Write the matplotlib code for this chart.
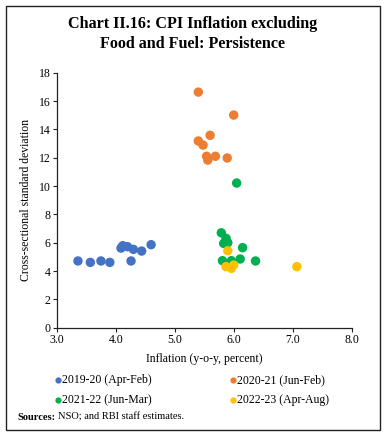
import matplotlib
matplotlib.use("Agg")
import matplotlib.pyplot as plt
from matplotlib.patches import Rectangle
from matplotlib.lines import Line2D

# data
fy20_x = [3.36, 3.57, 3.75, 3.90, 4.26, 4.09, 4.12, 4.20, 4.30, 4.44, 4.60]
fy20_y = [4.71, 4.61, 4.71, 4.61, 4.71, 5.62, 5.79, 5.72, 5.53, 5.41, 5.86]

fy21_x = [5.40, 6.00, 5.60, 5.40, 5.48, 5.54, 5.56, 5.69, 5.89]
fy21_y = [16.63, 15.01, 13.58, 13.18, 12.89, 12.10, 11.83, 12.10, 11.98]

fy22_x = [6.05, 5.79, 5.87, 5.83, 5.90, 6.15, 5.81, 5.96, 6.11, 6.37]
fy22_y = [10.21, 6.70, 6.31, 5.95, 6.00, 5.65, 4.73, 4.73, 4.85, 4.71]

fy23_x = [5.90, 5.87, 5.96, 6.00, 7.07]
fy23_y = [5.43, 4.31, 4.19, 4.42, 4.31]

series = [
    ("2019-20 (Apr-Feb)", fy20_x, fy20_y, "#4472C4"),
    ("2020-21 (Jun-Feb)", fy21_x, fy21_y, "#ED7D31"),
    ("2021-22 (Jun-Mar)", fy22_x, fy22_y, "#00B050"),
    ("2022-23 (Apr-Aug)", fy23_x, fy23_y, "#FFC000"),
]

W, H = 385, 437
serif = "Liberation Serif"
fig = plt.figure(figsize=(W / 100, H / 100), dpi=100)

def fx(px):
    return px / W

def fy(py):
    return 1 - py / H

# outer frame
fig.patches.append(Rectangle((fx(6), fy(430)), 374 / W, 424 / H,
                             transform=fig.transFigure, fill=False,
                             edgecolor="#222222", linewidth=1.0))

fig.text(0.5, fy(24), "Chart II.16: CPI Inflation excluding",
         ha="center", va="center", fontsize=11.6, fontweight="bold", family=serif)
fig.text(0.5, fy(44), "Food and Fuel: Persistence",
         ha="center", va="center", fontsize=11.6, fontweight="bold", family=serif)

ax = fig.add_axes([fx(56.7), fy(327.7), 295 / W, 255 / H])
for name, xs, ys, c in series:
    ax.scatter(xs, ys, s=46, color=c, edgecolors="none", zorder=3)

ax.set_xlim(3, 8)
ax.set_ylim(0, 18)
ax.set_xticks([3, 4, 5, 6, 7, 8])
ax.set_xticklabels(["3.0", "4.0", "5.0", "6.0", "7.0", "8.0"])
ax.set_yticks(range(0, 19, 2))
for s in ["top", "right"]:
    ax.spines[s].set_visible(False)
for s in ["left", "bottom"]:
    ax.spines[s].set_color("#222222")
    ax.spines[s].set_linewidth(0.9)
ax.tick_params(labelsize=8.5, length=3, width=0.8, color="#222222", pad=1.5)
for lbl in ax.get_xticklabels() + ax.get_yticklabels():
    lbl.set_family(serif)
ax.set_xlabel("Inflation (y-o-y, percent)", fontsize=8.5, family=serif, labelpad=5)
ax.set_ylabel("Cross-sectional standard deviation", fontsize=8.5, family=serif, labelpad=5)

# legend: two columns, markers at x=58 and x=233
leg_cols = [58, 233]
leg_rows = [380, 400]
for i, (name, _, _, c) in enumerate(series):
    px = leg_cols[i % 2]
    py = leg_rows[i // 2]
    fig.add_artist(Line2D([fx(px)], [fy(py)], marker="o", linestyle="none", color=c,
                          markersize=4.5, markeredgewidth=0, transform=fig.transFigure))
    fig.text(fx(px + 4), fy(py), name, fontsize=8.5, family=serif, va="center", ha="left")

src = fig.text(fx(17), fy(417), "Sources:", fontsize=7.5, va="center",
               family=serif, fontweight="bold")
fig.canvas.draw()
bb = src.get_window_extent()
fig.text(fx(bb.x1 + 3), fy(417), "NSO; and RBI staff estimates.", fontsize=7.5,
         va="center", family=serif)

fig.savefig("out.png", dpi=100)
